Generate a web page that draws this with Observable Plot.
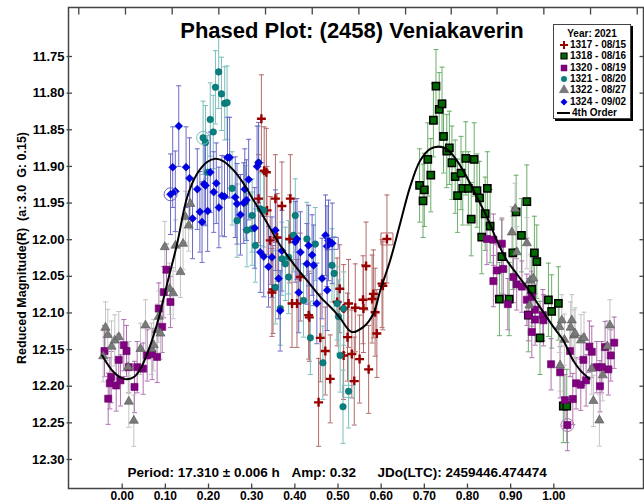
<!DOCTYPE html>
<html><head><meta charset="utf-8">
<script src="https://cdn.jsdelivr.net/npm/d3@7"></script>
<script src="https://cdn.jsdelivr.net/npm/@observablehq/plot@0.6"></script>
<style>
body{margin:0;background:#fff;font-family:"Liberation Sans",Arial,sans-serif;}
#wrap{position:relative;width:644px;height:504px;overflow:hidden;}
#legend{position:absolute;left:553px;top:24px;width:76px;height:93px;border:1px solid #444;background:#fff;box-shadow:2px 2px 0 #000;font-weight:bold;font-size:10px;color:#000;}
#legend .row{position:absolute;left:0;height:12px;line-height:12px;white-space:nowrap;}
#legend svg{position:absolute;left:4px;top:0;}
#legend span{position:absolute;left:16px;top:0;}
</style></head><body><div id="wrap"></div>
<script>
// ---------- data (phase, reduced magnitude) ----------
const seriesLabels = ["1317 - 08/15","1318 - 08/16","1320 - 08/19","1321 - 08/20","1322 - 08/27","1324 - 09/02"];
const seriesErr = [0.06, 0.05, 0.035, 0.05, 0.035, 0.055];

const red1317 = [[0.3225,11.835],[0.329,11.906],[0.316,11.944],[0.334,11.908],[0.3356,11.960],[0.343,12.001],[0.3495,12.068],[0.347,12.072],[0.355,11.944],[0.359,11.997],[0.370,11.954],[0.388,11.999],[0.3896,11.944],[0.3935,12.087],[0.405,12.087],[0.4127,12.051],[0.432,12.103],[0.4336,12.106],[0.455,12.222],[0.459,12.134],[0.4706,12.152],[0.482,12.190],[0.498,12.085],[0.504,12.067],[0.513,12.094],[0.513,12.158],[0.522,12.133],[0.5245,12.087],[0.532,12.156],[0.5377,12.193],[0.540,12.093],[0.550,12.163],[0.558,12.082],[0.559,12.094],[0.565,12.036],[0.571,12.177],[0.579,12.081],[0.582,12.074],[0.586,12.099],[0.590,12.128],[0.602,12.060],[0.604,12.063],[0.6134,11.999]];

const green1318 = [[0.689,11.926],[0.697,11.947],[0.700,11.932],[0.708,11.8905],[0.715,11.912],[0.721,11.837],[0.727,11.7905],[0.7345,11.822],[0.741,11.8145],[0.7444,11.859],[0.752,11.879],[0.758,11.8746],[0.764,11.895],[0.7715,11.914],[0.777,11.940],[0.785,11.909],[0.789,11.930],[0.796,11.889],[0.802,11.930],[0.8086,11.972],[0.8155,11.8905],[0.822,11.933],[0.828,11.943],[0.833,11.9965],[0.841,11.9646],[0.846,11.930],[0.8525,11.9815],[0.874,12.081],[0.8796,12.023],[0.8965,12.081],[0.905,12.018],[0.9127,11.962],[0.925,11.994],[0.9375,11.948],[0.941,12.103],[0.949,12.068],[0.955,12.018],[0.9606,12.030],[0.968,12.134],[0.9875,12.082],[0.995,12.098],[1.0106,12.087],[1.022,12.227],[1.030,12.227]];

const purple1320 = [[-0.041,12.152],[-0.0324,12.217],[-0.0287,12.196],[-0.0255,12.1875],[-0.0139,12.199],[-0.008,12.164],[-0.004,12.192],[0.0037,12.144],[0.010,12.152],[0.0153,12.174],[0.0285,12.201],[0.0347,12.174],[0.0486,12.176],[0.0579,12.158],[0.0694,12.156],[0.081,12.160],[0.0847,12.094],[0.0926,12.119],[0.0963,12.0716],[0.1025,12.041],[0.1118,12.085],
 [0.845,11.999],[0.860,12.000],[0.860,12.0565],[0.868,12.042],[0.8796,12.0055],[0.883,12.040],[0.8935,12.088],[0.9065,12.051],[0.914,12.061],[0.926,12.064],[0.9375,12.082],[0.941,12.103],[0.949,12.078],[0.949,12.126],[0.9567,12.0956],[0.9567,12.109],[0.9745,12.103],[0.976,12.110],[0.9937,12.170],[1.0146,12.181],[1.0257,12.219],[1.0315,12.253],[1.0377,12.152],[1.044,12.2175],[1.0516,12.196],[1.0625,12.198],[1.0685,12.164],[1.0748,12.192],[1.0824,12.146],[1.088,12.153],[1.0995,12.174],[1.107,12.200],[1.111,12.174],[1.1188,12.1466],[1.1264,12.177],[1.132,12.158],[1.140,12.1406]];

const teal1321 = [[0.1875,11.861],[0.193,11.867],[0.198,11.908],[0.204,11.836],[0.211,11.853],[0.216,11.792],[0.2236,11.771],[0.230,11.801],[0.2375,11.814],[0.243,11.813],[0.2546,11.930],[0.266,11.974],[0.2854,11.949],[0.289,11.987],[0.301,11.967],[0.301,11.985],[0.3086,12.008],[0.316,11.895],[0.320,11.958],[0.328,11.960],[0.355,12.065],[0.3664,12.094],[0.370,12.026],[0.378,12.033],[0.3856,12.024],[0.3856,12.051],[0.397,11.994],[0.401,11.967],[0.420,12.083],[0.428,11.999],[0.436,12.134],[0.4475,12.006],[0.465,12.168],[0.486,12.035],[0.491,12.046],[0.498,12.087],[0.501,12.105],[0.505,12.158],[0.5116,12.228],[0.513,12.094],[0.5245,12.207]];

const gray1322 = [[-0.044,12.159],[-0.0387,12.120],[-0.0333,12.130],[-0.0248,12.146],[-0.0171,12.1375],[-0.0079,12.133],[0.0139,12.174],[0.0153,12.221],[0.0269,12.247],[0.0424,12.149],[0.0539,12.117],[0.0678,12.149],[0.0731,12.144],[0.081,12.123],[0.0847,12.105],[0.0887,12.128],[0.0986,12.010],[0.110,12.067],[0.118,12.073],[0.1234,12.008],[0.135,12.044],[0.141,12.0055],[0.1465,11.969],[0.154,11.9806],[0.158,11.951],
 [0.9028,11.990],[0.9104,11.958],[0.9144,12.017],[0.9375,12.0047],[0.9435,12.0897],[0.945,12.0556],[0.9528,12.053],[1.013,12.119],[1.0146,12.1716],[1.0185,12.110],[1.0245,12.1365],[1.039,12.120],[1.0417,12.110],[1.047,12.1306],[1.0493,12.128],[1.063,12.1374],[1.070,12.134],[1.088,12.176],[1.0917,12.220],[1.1056,12.2466],[1.1134,12.185],[1.124,12.1456],[1.130,12.117]];

const blue1324 = [[0.112,11.938],[0.117,11.901],[0.123,11.934],[0.131,11.845],[0.148,11.901],[0.156,11.916],[0.163,11.971],[0.174,11.931],[0.180,11.962],[0.185,11.976],[0.190,11.924],[0.193,11.926],[0.198,11.961],[0.204,11.908],[0.212,11.935],[0.218,11.923],[0.224,11.956],[0.231,11.940],[0.237,11.941],[0.244,11.888],[0.249,11.888],[0.262,11.942],[0.266,11.951],[0.274,11.966],[0.2815,11.950],[0.284,11.931],[0.288,11.946],[0.293,11.918],[0.307,11.984],[0.3125,11.900],[0.316,11.895],[0.320,12.017],[0.328,12.023],[0.339,12.037],[0.347,12.024],[0.355,11.987],[0.3625,12.053],[0.366,12.097],[0.370,12.015],[0.401,12.003],[0.405,11.999],[0.409,12.072],[0.413,12.017],[0.428,12.033],[0.432,12.008],[0.440,12.021],[0.4435,12.035],[0.451,12.087],[0.463,12.053],[0.471,11.994],[0.4745,12.009],[0.475,12.069],[0.478,12.001],[0.4866,12.005]];

// flagged points: [series index, phase, mag]
const circledPoints = [[5,0.112,11.938],[3,0.1875,11.861],[2,1.0315,12.253]];
const boxedPoints = [[0,0.6134,11.999],[3,0.5245,12.207],[5,0.4866,12.005]];

// 4th order Fourier fit
const fitPhase = [-0.0463,-0.0194,0.0037,0.0269,0.0424,0.0579,0.081,0.1042,0.1273,0.1505,0.1736,0.1968,0.216,0.235,0.2583,0.2815,0.3046,0.3278,0.3664,0.397,0.428,0.459,0.490,0.505,0.532,0.559,0.582,0.598,0.621,0.644,0.667,0.6905,0.7137,0.733,0.752,0.7755,0.7986,0.822,0.845,0.868,0.891,0.914,0.9375,0.968,0.999,1.022,1.045,1.061,1.0826];
const fitMag = [12.158,12.181,12.190,12.1875,12.176,12.1556,12.1147,12.060,12.0055,11.942,11.910,11.894,11.8896,11.893,11.9055,11.9237,11.9465,11.969,12.008,12.033,12.0556,12.078,12.0965,12.107,12.126,12.119,12.101,12.069,12.028,11.978,11.928,11.892,11.876,11.873,11.876,11.892,11.9147,11.942,11.969,12.001,12.028,12.0465,12.065,12.092,12.119,12.1375,12.165,12.178,12.190];

const xTicks = [0,0.1,0.2,0.3,0.4,0.5,0.6,0.7,0.8,0.9,1.0];
const yTicks = [11.75,11.80,11.85,11.90,11.95,12.00,12.05,12.10,12.15,12.20,12.25,12.30];
const topTicks = [-0.1006,0.0076,0.1158,0.2239,0.3321,0.4403,0.5484,0.6566,0.7623,0.8685,0.9769,1.0851,1.1933];

const titleText = "Phased Plot: (2458) Veniakaverin";
const yLabel = "Reduced Magnitude(R)  (a: 3.0  G: 0.15)";
const captionA = "Period: 17.310 ± 0.006 h";
const captionB = "Amp: 0.32";
const captionC = "JDo(LTC): 2459446.474474";
const legendTitle = "Year: 2021";
const fitLabel = "4th Order";

// ---------- styles ----------
const sym = (f) => ({draw: f});
const plusSym = sym(c => {c.moveTo(-4.5,0);c.lineTo(4.5,0);c.moveTo(0,-4.5);c.lineTo(0,4.5);});
const diamondSym = sym(c => {c.moveTo(0,-4);c.lineTo(4,0);c.lineTo(0,4);c.lineTo(-4,0);c.closePath();});
const capSym = sym(c => {c.moveTo(-2.5,0);c.lineTo(2.5,0);});
const leftTick = sym(c => {c.moveTo(-2,0);c.lineTo(3.5,0);});
const rightTick = sym(c => {c.moveTo(-4,0);c.lineTo(0,0);});
const upTick = sym(c => {c.moveTo(0,0);c.lineTo(0,-5);});
const downTick = sym(c => {c.moveTo(0,0);c.lineTo(0,7);});
const boxSym = sym(c => {c.rect(-6,-6,12,12);});

const styles = [
  {symbol: plusSym, r: 4, fill: "none", stroke: "#990000", strokeWidth: 2.4, bar: "#b26a6a"},
  {symbol: "square", r: 4.1, fill: "#006b00", stroke: "#000", strokeWidth: 1.5, bar: "#6aae6a"},
  {symbol: "square", r: 4.0, fill: "#800080", stroke: "#660066", strokeWidth: 0.6, bar: "#b070b0"},
  {symbol: "circle", r: 3.3, fill: "#0a7f7f", stroke: "#066", strokeWidth: 0.5, bar: "#7dbebe"},
  {symbol: "triangle", r: 3.4, fill: "#7a7a7a", stroke: "#555", strokeWidth: 0.6, bar: "#c4c4c4"},
  {symbol: diamondSym, r: 4, fill: "#0000e6", stroke: "#0000b0", strokeWidth: 0.5, bar: "#6a6ac8"}
];

const allSeries = [red1317, green1318, purple1320, teal1321, gray1322, blue1324];
const rows = allSeries.map((pts, i) => pts.map(([phase, mag]) => ({s: i, phase, mag, err: seriesErr[i]})));
const fit = fitPhase.map((p, i) => ({phase: p, mag: fitMag[i]}));

const marks = [];
// error bars
rows.forEach((data, i) => {
  const st = styles[i];
  marks.push(Plot.ruleX(data, {x: "phase", y1: d => d.mag - d.err, y2: d => d.mag + d.err, stroke: st.bar, strokeWidth: 1}));
  marks.push(Plot.dot(data, {x: "phase", y: d => d.mag - d.err, symbol: capSym, r: 1, fill: "none", stroke: st.bar, strokeWidth: 1}));
  marks.push(Plot.dot(data, {x: "phase", y: d => d.mag + d.err, symbol: capSym, r: 1, fill: "none", stroke: st.bar, strokeWidth: 1}));
});
// markers
rows.forEach((data, i) => {
  const st = styles[i];
  marks.push(Plot.dot(data, {x: "phase", y: "mag", symbol: st.symbol, r: st.r, fill: st.fill, stroke: st.stroke, strokeWidth: st.strokeWidth}));
});
// flagged points
marks.push(Plot.dot(circledPoints, {x: d => d[1], y: d => d[2], r: 6.5, fill: "none", stroke: d => styles[d[0]].bar, strokeWidth: 1}));
marks.push(Plot.dot(boxedPoints, {x: d => d[1], y: d => d[2], symbol: boxSym, r: 1, fill: "none", stroke: d => styles[d[0]].bar, strokeWidth: 1}));
// fit curve
marks.push(Plot.line(fit, {x: "phase", y: "mag", curve: "catmull-rom", stroke: "#000", strokeWidth: 2}));

const font = "Liberation Sans, Arial, sans-serif";
const chart = Plot.plot({
  width: 644, height: 504,
  marginLeft: 68, marginRight: 1, marginTop: 7, marginBottom: 16,
  style: {fontFamily: font, background: "#fff", color: "#000"},
  x: {domain: [-0.1244, 1.2078]},
  y: {domain: [11.6831, 12.3396], reverse: true},
  marks: [
    ...marks,
    Plot.frame({stroke: "#444", strokeWidth: 1.5}),
    Plot.axisX(xTicks, {tickSize: 0, tickPadding: 3, tickFormat: d3.format(".2f"), fontSize: 12, fontWeight: "bold", fill: "#000", label: null}),
    Plot.axisY(yTicks, {tickSize: 0, tickPadding: 4, tickFormat: d3.format(".2f"), fontSize: 13, fontWeight: "bold", fill: "#000", label: null}),
    Plot.dot(yTicks, {y: d => d, frameAnchor: "left", symbol: leftTick, r: 1, fill: "none", stroke: "#444", strokeWidth: 1.3}),
    Plot.dot(yTicks, {y: d => d, frameAnchor: "right", symbol: rightTick, r: 1, fill: "none", stroke: "#444", strokeWidth: 1.3}),
    Plot.dot(xTicks, {x: d => d, frameAnchor: "bottom", symbol: upTick, r: 1, fill: "none", stroke: "#444", strokeWidth: 1.3}),
    Plot.dot(topTicks, {x: d => d, frameAnchor: "top", symbol: downTick, r: 1, fill: "none", stroke: "#444", strokeWidth: 1.3}),
    Plot.text([titleText], {frameAnchor: "top", dx: -4, dy: 15, fontSize: 22, fontWeight: "bold", fill: "#000"}),
    Plot.text([yLabel], {frameAnchor: "left", textAnchor: "middle", rotate: -90, dx: -47, fontSize: 12.5, fontWeight: "bold", fill: "#000"}),
    Plot.text([captionA], {frameAnchor: "bottom-left", textAnchor: "start", dx: 59, dy: -12, fontSize: 13.5, fontWeight: "bold", fill: "#000"}),
    Plot.text([captionB], {frameAnchor: "bottom-left", textAnchor: "start", dx: 223, dy: -12, fontSize: 13.5, fontWeight: "bold", fill: "#000"}),
    Plot.text([captionC], {frameAnchor: "bottom-left", textAnchor: "start", dx: 309, dy: -12, fontSize: 13.5, fontWeight: "bold", fill: "#000"})
  ]
});
const wrap = document.getElementById("wrap");
wrap.appendChild(chart);

// ---------- legend ----------
const legend = document.createElement("div");
legend.id = "legend";
const legendCenters = [20.3, 31, 42.7, 53.7, 65.3, 76.7, 88.3];
let html = `<div class="row" style="top:2.5px;width:76px;text-align:center">${legendTitle}</div>`;
const symPath = (i) => {
  const st = styles[i];
  if (i === 0) return `<path d="M-4,0H4M0,-4V4" stroke="${st.stroke}" stroke-width="2" fill="none"/>`;
  if (i === 5) return `<path d="M0,-3.5L3.5,0L0,3.5L-3.5,0Z" fill="${st.fill}"/>`;
  const type = {square: d3.symbolSquare, circle: d3.symbolCircle, triangle: d3.symbolTriangle}[st.symbol];
  const r = st.symbol === "circle" ? 2.8 : 3.4;
  return `<path d="${d3.symbol(type, r * r * Math.PI)()}" fill="${st.fill}" stroke="${st.stroke}" stroke-width="${i===1?1.2:0.5}"/>`;
};
seriesLabels.forEach((lab, i) => {
  html += `<div class="row" style="top:${legendCenters[i] - 6}px"><svg width="12" height="12" viewBox="-6 -6 12 12">${symPath(i)}</svg><span>${lab}</span></div>`;
});
html += `<div class="row" style="top:${legendCenters[6] - 6}px"><svg width="14" height="12" viewBox="0 -6 14 12" style="left:3px"><path d="M0,0H13" stroke="#000" stroke-width="2"/></svg><span style="left:18px">${fitLabel}</span></div>`;
legend.innerHTML = html;
wrap.appendChild(legend);
</script>
</body></html>
